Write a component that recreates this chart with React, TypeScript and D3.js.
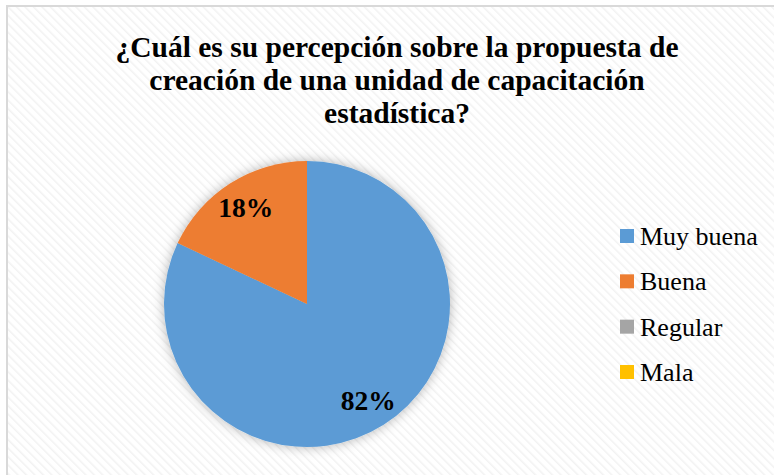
import React from "react";
import * as d3 from "d3";

const titleLines = [
  "¿Cuál es su percepción sobre la propuesta de",
  "creación de una unidad de capacitación",
  "estadística?",
];
const categories = ["Muy buena", "Buena", "Regular", "Mala"];
const values = [82, 18, 0, 0];
const colors = ["#5B9BD5", "#ED7D31", "#A5A5A5", "#FFC000"];

const W = 774;
const H = 475;
const serif = "Liberation Serif, Tinos, Times New Roman, serif";

export default function App() {
  const cx = 307;
  const cy = 304;
  const r = 143;

  const data = categories.map((c, i) => ({ name: c, value: values[i], color: colors[i] }));
  const pie = d3.pie<any>().sort(null).value((d) => d.value);
  const arcs = pie(data);
  const arc = d3.arc<any>().innerRadius(0).outerRadius(r);
  const labelArc = d3.arc<any>().innerRadius(r * 0.8).outerRadius(r * 0.8);

  const legendY = d3.scalePoint<string>().domain(categories).range([236, 372]);

  return (
    <div style={{ position: "absolute", left: 0, top: 0 }}>
      <svg width={W} height={H} style={{ display: "block", fontFamily: serif }}>
        <defs>
          <pattern id="hatch" width="6" height="6" patternUnits="userSpaceOnUse" patternTransform="rotate(-45)">
            <rect width="6" height="6" fill="#ffffff" />
            <line x1="0" y1="0" x2="0" y2="6" stroke="#f2f2f2" strokeWidth="3" />
          </pattern>
          <filter id="shadow" x="-20%" y="-20%" width="140%" height="140%">
            <feDropShadow dx="0" dy="0" stdDeviation="6" floodColor="#000" floodOpacity="0.3" />
          </filter>
        </defs>
        <rect x={0} y={0} width={W} height={H} fill="#ffffff" />
        <rect x={7} y={6} width={W + 10} height={H + 10} fill="url(#hatch)" stroke="#d9d9d9" strokeWidth={2} />

        <g style={{ fontFamily: serif, fontWeight: "bold", fontSize: 29.5 }} textAnchor="middle">
          {titleLines.map((t, i) => (
            <text key={i} x={397} y={57 + i * 33} fill="#000">
              {t}
            </text>
          ))}
        </g>

        <g transform={`translate(${cx},${cy})`} filter="url(#shadow)">
          {arcs.map((a, i) => (
            <path key={i} d={arc(a) || ""} fill={a.data.color} />
          ))}
        </g>
        <g transform={`translate(${cx},${cy})`} style={{ fontFamily: serif, fontWeight: "bold", fontSize: 27.5 }}>
          {arcs
            .filter((a) => a.data.value > 0)
            .map((a, i) => {
              const [x, y] = labelArc.centroid(a);
              return (
                <text key={i} x={x} y={y} dy="0.35em" textAnchor="middle" fill="#000">
                  {a.data.value}%
                </text>
              );
            })}
        </g>

        <g style={{ fontFamily: serif, fontSize: 26 }}>
          {data.map((d) => (
            <g key={d.name} transform={`translate(620,${legendY(d.name)})`}>
              <rect x={0} y={-7} width={14} height={14} fill={d.color} />
              <text x={20} y={0} dy="0.35em" fill="#000">
                {d.name}
              </text>
            </g>
          ))}
        </g>
      </svg>
    </div>
  );
}
